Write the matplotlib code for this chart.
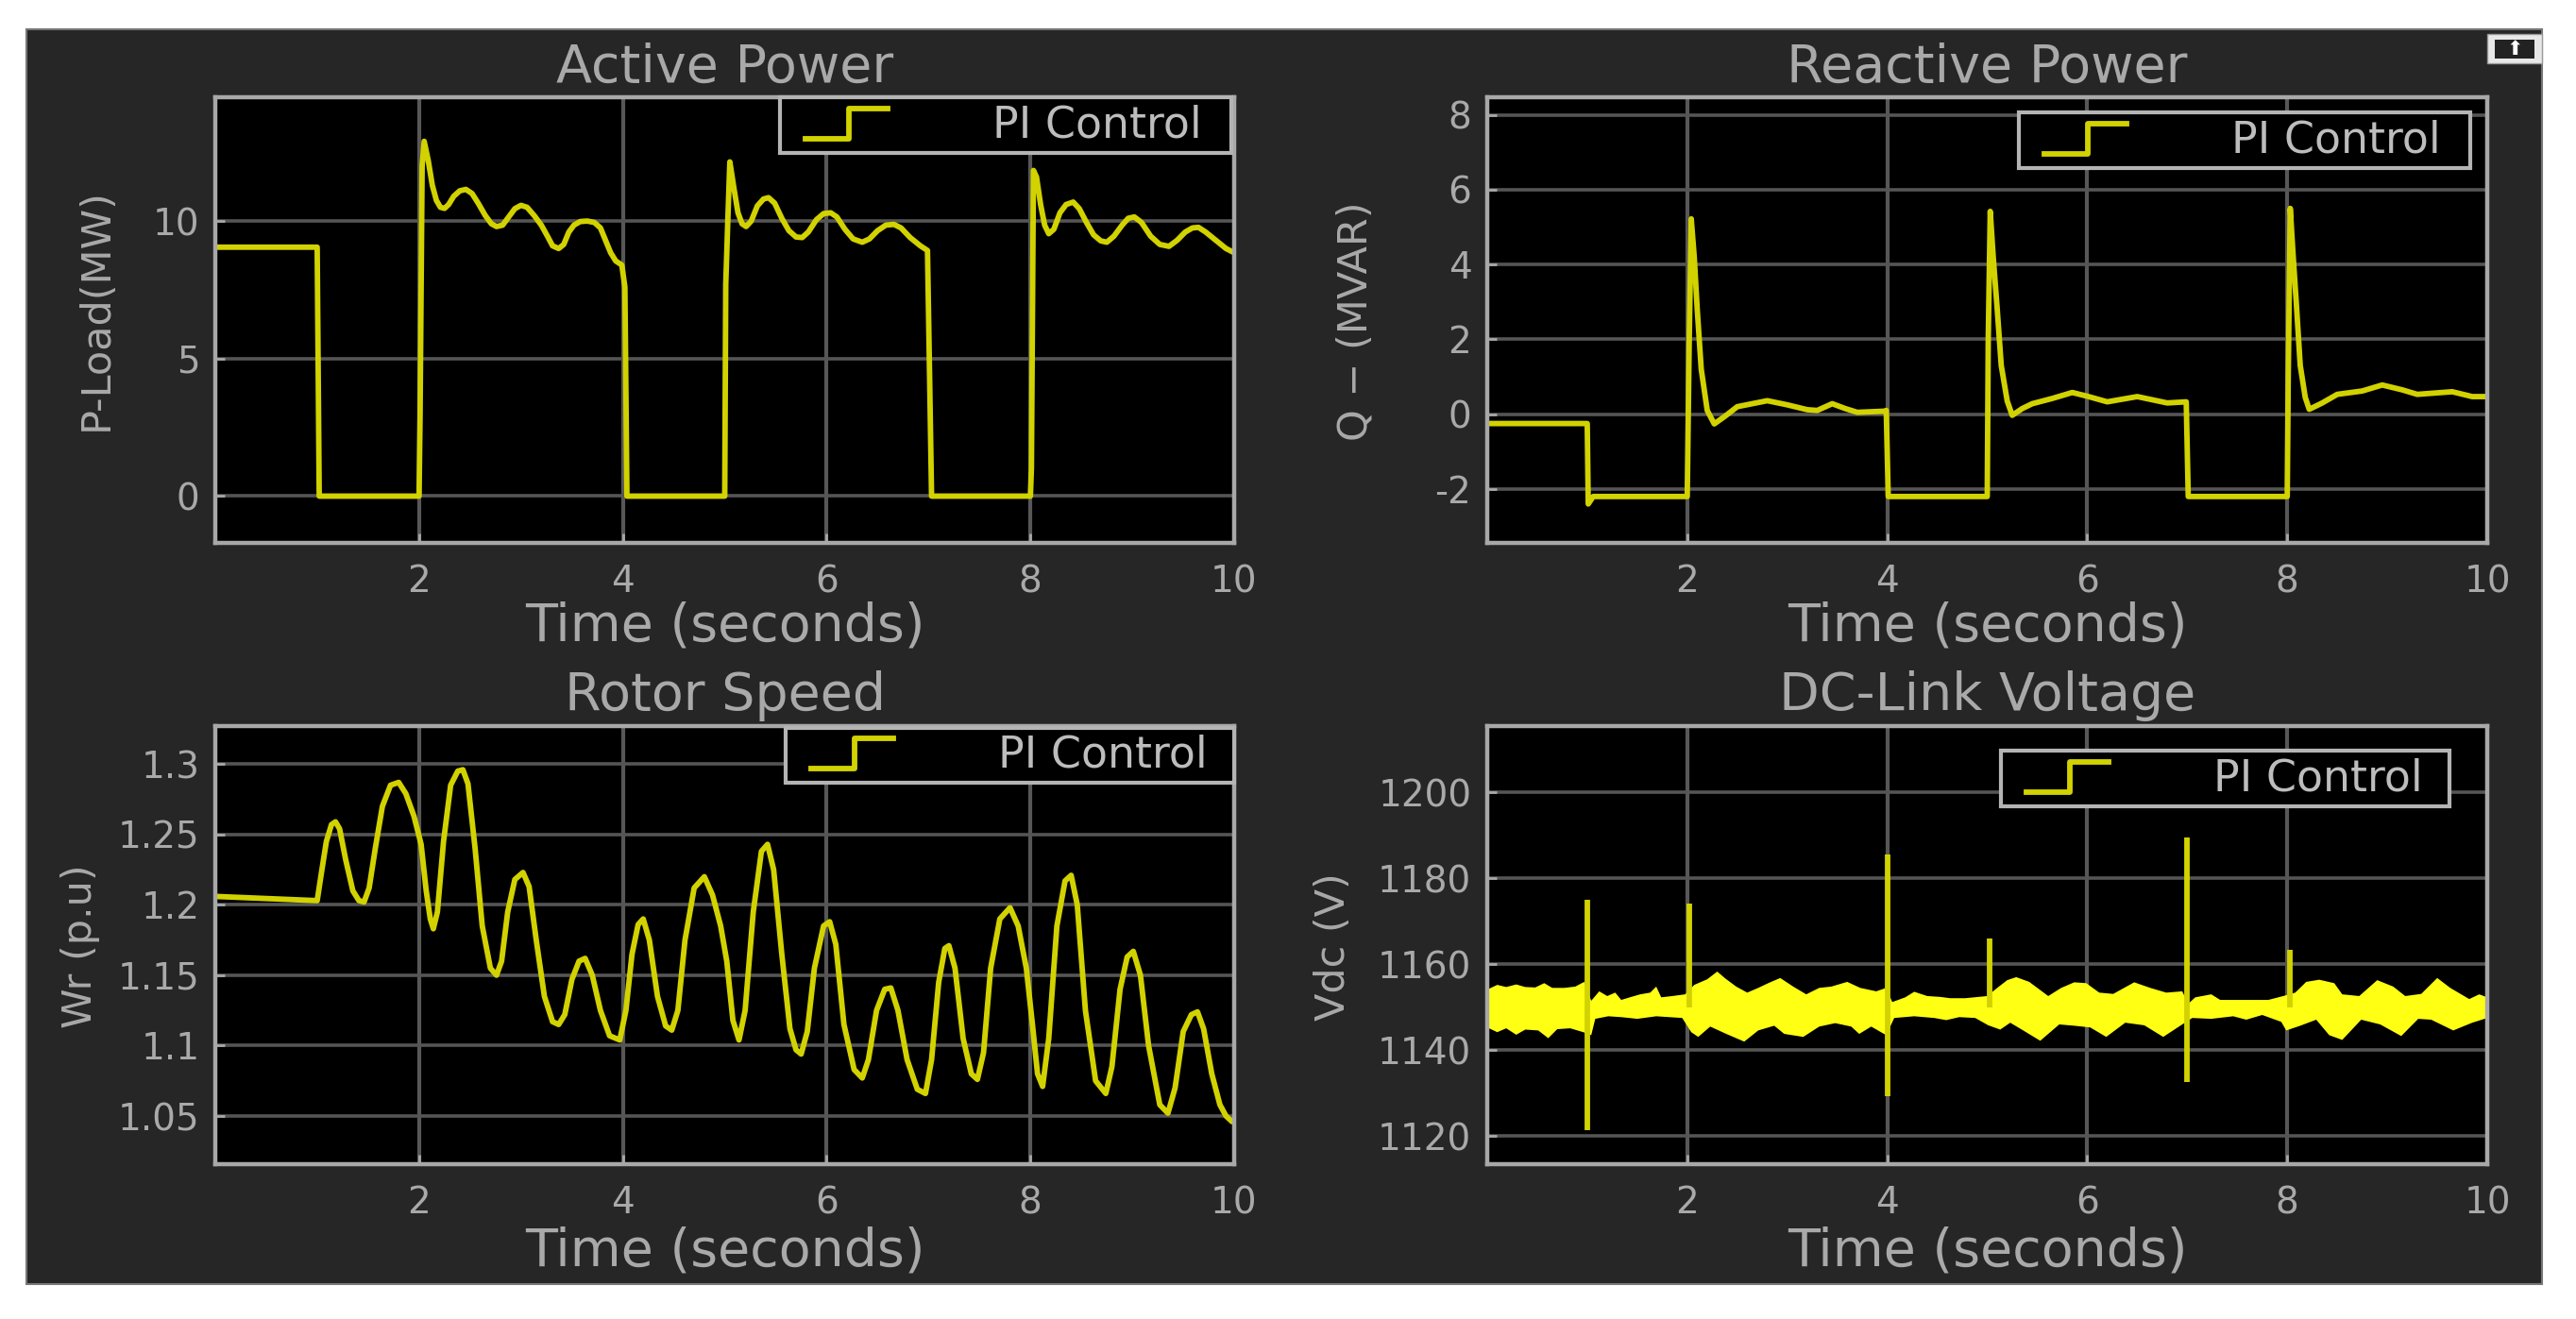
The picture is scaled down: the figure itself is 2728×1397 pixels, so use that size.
"""
Recreate the four-panel PI control scope figure (active/reactive power, rotor speed, DC link).
Output: out.png
"""
from __future__ import annotations

import matplotlib
matplotlib.use("Agg")
import matplotlib.pyplot as plt
from matplotlib.legend_handler import HandlerBase
from matplotlib.lines import Line2D
from matplotlib.patches import Rectangle

FIG_W = 2728
FIG_H = 1397

# Active power
P_T = [0, 1.0, 1.02, 2.0, 2.01, 2.03, 2.05, 2.09, 2.13, 2.17, 2.21, 2.25, 2.29, 2.34, 2.40, 2.46, 2.52, 2.58, 2.65, 2.71, 2.76,
       2.82, 2.88, 2.94, 3.0, 3.06, 3.13, 3.2, 3.26, 3.31, 3.37, 3.42, 3.47, 3.52, 3.58, 3.65, 3.72, 3.78, 3.83, 3.88, 3.93,
       3.99, 4.02, 4.04, 5.0, 5.01, 5.03, 5.05, 5.09, 5.13, 5.17, 5.21, 5.26, 5.32, 5.38, 5.43, 5.49, 5.56, 5.63, 5.7, 5.76,
       5.82, 5.9, 5.97, 6.04, 6.1, 6.18, 6.26, 6.35, 6.42, 6.5, 6.58, 6.66, 6.73, 6.82, 6.92, 6.99, 7.01, 7.03, 8.0, 8.01,
       8.03, 8.06, 8.1, 8.14, 8.18, 8.23, 8.29, 8.35, 8.42, 8.48, 8.55, 8.62, 8.69, 8.75, 8.82, 8.9, 8.96, 9.02, 9.09, 9.18,
       9.27, 9.36, 9.44, 9.52, 9.59, 9.65, 9.72, 9.82, 9.92, 10.0]
P_Y = [9.05, 9.05, 0, 0, 3.0, 12.0, 12.9, 12.2, 11.3, 10.75, 10.5, 10.46, 10.6, 10.9, 11.1, 11.15, 11.0, 10.65, 10.2, 9.9, 9.8,
       9.85, 10.15, 10.45, 10.57, 10.5, 10.2, 9.85, 9.45, 9.1, 9.0, 9.15, 9.6, 9.85, 9.98, 10.0, 9.95, 9.75, 9.3, 8.85, 8.55,
       8.4, 7.6, 0, 0, 7.7, 10.0, 12.15, 11.2, 10.3, 9.9, 9.8, 10.0, 10.55, 10.8, 10.85, 10.65, 10.1, 9.65, 9.42, 9.4,
       9.6, 10.05, 10.27, 10.3, 10.15, 9.7, 9.35, 9.23, 9.35, 9.65, 9.85, 9.88, 9.75, 9.4, 9.1, 8.93, 4.5, 0, 0, 1.0,
       11.84, 11.6, 10.6, 9.85, 9.54, 9.7, 10.3, 10.6, 10.69, 10.45, 9.95, 9.5, 9.28, 9.23, 9.45, 9.85, 10.1, 10.15, 9.95, 9.45,
       9.15, 9.08, 9.3, 9.6, 9.75, 9.77, 9.6, 9.3, 9.0, 8.85]

# Reactive power
Q_T = [0, 1.0, 1.01, 1.06, 2.0, 2.02, 2.04, 2.07, 2.1, 2.14, 2.2, 2.27, 2.38, 2.5, 2.65, 2.8, 3.0, 3.2, 3.3, 3.45, 3.58,
       3.7, 3.97, 3.99, 4.01, 5.0, 5.01, 5.03, 5.06, 5.1, 5.14, 5.2, 5.25, 5.35, 5.45, 5.65, 5.85, 6.0, 6.2, 6.5, 6.8, 6.99,
       7.01, 8.0, 8.01, 8.03, 8.06, 8.09, 8.13, 8.18, 8.22, 8.35, 8.5, 8.75, 8.95, 9.15, 9.3, 9.65, 9.85, 10.0]
Q_Y = [-0.25, -0.25, -2.4, -2.2, -2.2, 2.0, 5.22, 4.2, 2.8, 1.2, 0.1, -0.26, -0.05, 0.2, 0.28, 0.36, 0.25, 0.12, 0.1, 0.28, 0.15,
       0.05, 0.08, 0.1, -2.2, -2.2, 2.0, 5.42, 4.2, 2.8, 1.3, 0.35, -0.03, 0.15, 0.28, 0.42, 0.58, 0.48, 0.33, 0.47, 0.3, 0.33,
       -2.2, -2.2, 1.0, 5.5, 4.2, 3.0, 1.3, 0.45, 0.13, 0.3, 0.53, 0.62, 0.78, 0.65, 0.53, 0.6, 0.47, 0.47]

# Rotor speed
W_T = [0, 1.0, 1.04, 1.09, 1.14, 1.18, 1.22, 1.28, 1.35, 1.41, 1.46, 1.51, 1.57, 1.64, 1.72, 1.8, 1.87, 1.95, 2.02, 2.07,
       2.11, 2.14, 2.18, 2.24, 2.31, 2.38, 2.43, 2.48, 2.55, 2.62, 2.7, 2.76, 2.81, 2.87, 2.94, 3.02, 3.08, 3.15, 3.23, 3.31,
       3.37, 3.43, 3.5, 3.57, 3.63, 3.7, 3.78, 3.87, 3.97, 4.03, 4.09, 4.15, 4.2, 4.26, 4.34, 4.42, 4.48, 4.54, 4.61, 4.7,
       4.8, 4.88, 4.96, 5.02, 5.08, 5.14, 5.2, 5.28, 5.36, 5.42, 5.48, 5.56, 5.64, 5.7, 5.75, 5.81, 5.88, 5.97, 6.03, 6.09,
       6.17, 6.27, 6.35, 6.41, 6.49, 6.57, 6.63, 6.7, 6.79, 6.89, 6.97, 7.03, 7.1, 7.16, 7.2, 7.26, 7.34, 7.42, 7.48, 7.54,
       7.61, 7.7, 7.8, 7.88, 7.96, 8.02, 8.07, 8.12, 8.18, 8.26, 8.34, 8.4, 8.46, 8.54, 8.64, 8.74, 8.8, 8.88, 8.95, 9.01,
       9.08, 9.16, 9.27, 9.35, 9.42, 9.5, 9.58, 9.64, 9.7, 9.78, 9.86, 9.92, 9.98, 10.0]
W_Y = [1.206, 1.203, 1.222, 1.245, 1.257, 1.259, 1.254, 1.232, 1.21, 1.203, 1.202, 1.212, 1.24, 1.27, 1.285, 1.287, 1.279, 1.263, 1.243, 1.21,
       1.19, 1.183, 1.195, 1.245, 1.285, 1.295, 1.296, 1.286, 1.24, 1.185, 1.155, 1.15, 1.16, 1.195, 1.218, 1.223, 1.213, 1.175, 1.135, 1.117,
       1.115, 1.122, 1.147, 1.16, 1.162, 1.15, 1.125, 1.107, 1.104, 1.125, 1.165, 1.186, 1.19, 1.175, 1.135, 1.114, 1.111, 1.125, 1.175, 1.212,
       1.22, 1.207, 1.185, 1.16, 1.118, 1.104, 1.125, 1.195, 1.238, 1.243, 1.225, 1.165, 1.112, 1.097, 1.094, 1.11, 1.155, 1.185, 1.188, 1.172,
       1.115, 1.083, 1.077, 1.09, 1.125, 1.14, 1.141, 1.125, 1.09, 1.069, 1.066, 1.09, 1.145, 1.169, 1.171, 1.155, 1.105, 1.08, 1.076, 1.095,
       1.155, 1.19, 1.198, 1.185, 1.155, 1.115, 1.08, 1.071, 1.105, 1.185, 1.217, 1.221, 1.2, 1.125, 1.075, 1.066, 1.085, 1.14, 1.163, 1.167,
       1.15, 1.1, 1.058, 1.052, 1.07, 1.11, 1.122, 1.124, 1.112, 1.08, 1.058, 1.05, 1.046, 1.046]

# DC link ripple band, upper and lower edges
UP_T = [0, .10, .19, .29, .38, .48, .57, .65, .77, .88, .97, 1.04, 1.12, 1.20, 1.28, 1.34, 1.44, 1.53, 1.63, 1.69,
        1.74, 1.85, 1.98, 2.07, 2.20, 2.30, 2.38, 2.49, 2.60, 2.71, 2.81, 2.93, 3.06, 3.19, 3.32, 3.44, 3.60, 3.73, 3.89, 3.99,
        4.05, 4.18, 4.27, 4.40, 4.53, 4.63, 4.78, 5.00, 5.10, 5.20, 5.29, 5.42, 5.61, 5.74, 5.87, 5.99, 6.12, 6.26,
        6.47, 6.63, 6.79, 6.95, 7.01, 7.08, 7.24, 7.33, 7.56, 7.81, 7.96, 8.08, 8.19, 8.32, 8.47, 8.55, 8.72, 8.90, 9.06, 9.18,
        9.34, 9.50, 9.63, 9.82, 9.92, 10.0]
UP_Y = [1154.1, 1155.2, 1154.7, 1155.3, 1154.7, 1154.6, 1155.6, 1154.5, 1154.5, 1154.8, 1155.9, 1151.5, 1153.7, 1152.6, 1153.4, 1151.7, 1152.4, 1153.0, 1153.4, 1154.8,
        1152.3, 1152.6, 1153.0, 1155.2, 1156.5, 1158.3, 1156.7, 1154.8, 1153.4, 1154.5, 1155.6, 1156.8, 1154.8, 1153.0, 1154.5, 1154.8, 1155.9, 1154.5, 1153.7, 1154.5,
        1151.2, 1152.3, 1153.6, 1152.6, 1152.4, 1152.1, 1152.1, 1152.6, 1154.5, 1156.3, 1157.0, 1155.9, 1152.6, 1154.5, 1155.8, 1155.6, 1153.4, 1153.1,
        1155.8, 1154.5, 1153.4, 1153.7, 1150.8, 1152.3, 1153.0, 1151.7, 1151.7, 1151.7, 1152.6, 1153.4, 1155.9, 1156.4, 1155.6, 1153.0, 1152.6, 1156.3, 1154.8, 1152.6,
        1153.1, 1156.8, 1154.5, 1151.9, 1153.0, 1152.3]
LOW_T = [0, .10, .19, .29, .38, .51, .61, .70, .83, .96, 1.04, 1.08, 1.21, 1.34, 1.50, 1.69, 1.95, 2.04, 2.11, 2.23,
         2.39, 2.57, 2.71, 2.87, 2.97, 3.16, 3.32, 3.48, 3.64, 3.72, 3.84, 3.99, 4.07, 4.27, 4.47, 4.59, 4.72, 4.88,
         5.01, 5.13, 5.23, 5.36, 5.53, 5.72, 5.87, 6.03, 6.19, 6.38, 6.57, 6.76, 6.95, 7.05, 7.24, 7.46, 7.59, 7.75, 7.94, 7.99,
         8.13, 8.29, 8.42, 8.55, 8.74, 8.93, 9.14, 9.31, 9.44, 9.66, 9.85, 10.0]
LOW_Y = [1145.3, 1144.2, 1145.1, 1143.6, 1144.8, 1144.6, 1142.8, 1144.9, 1145.1, 1144.2, 1143.5, 1147.3, 1147.9, 1147.7, 1147.3, 1147.9, 1147.5, 1144.2, 1143.1, 1145.5,
         1143.8, 1142.0, 1144.6, 1145.7, 1143.8, 1143.1, 1145.5, 1146.3, 1145.5, 1143.8, 1145.5, 1143.5, 1147.5, 1147.9, 1147.5, 1147.0, 1147.7, 1147.5,
         1145.8, 1144.8, 1146.4, 1144.6, 1142.2, 1146.0, 1145.7, 1145.3, 1143.1, 1146.4, 1145.8, 1143.1, 1146.0, 1147.5, 1147.3, 1147.9, 1147.1, 1148.2, 1146.6, 1144.6,
         1145.7, 1147.1, 1143.5, 1142.4, 1147.1, 1146.0, 1143.3, 1147.3, 1147.1, 1144.6, 1146.4, 1147.5]
SPIKE_T = [1.0, 2.02, 4.0, 5.02, 7.0, 8.03]
SPIKE_TOP = [1174.9, 1174.1, 1185.5, 1166.0, 1189.4, 1163.4]
SPIKE_BOTTOM = [1121.3, 1150.0, 1129.4, 1150.0, 1132.5, 1150.0]

X_TICKS = [2, 4, 6, 8, 10]
P_TICKS = [0, 5, 10]
Q_TICKS = [-2, 0, 2, 4, 6, 8]
W_TICKS = [1.05, 1.1, 1.15, 1.2, 1.25, 1.3]
W_TICK_LABELS = ["1.05", "1.1", "1.15", "1.2", "1.25", "1.3"]
V_TICKS = [1120, 1140, 1160, 1180, 1200]

PANEL_BG = "#262626"
TEXT_GRAY = "#a9a9a9"
FRAME_GRAY = "#a8a8a8"
LINE_YELLOW = "#d2d200"
BAND_YELLOW = "#ffff14"
LINE_W = 4.2


class StepHandler(HandlerBase):
    """Little step symbol the scope draws in its legend."""

    def create_artists(self, legend, orig_handle, xdescent, ydescent, width, height, fontsize, trans):
        x0 = -xdescent + 0.10 * width
        x1 = -xdescent + 0.33 * width
        x2 = -xdescent + 0.53 * width
        y0 = -ydescent - 0.05 * height
        y1 = -ydescent + 0.95 * height
        line = Line2D([x0, x1, x1, x2], [y0, y0, y1, y1], color=LINE_YELLOW, lw=LINE_W, transform=trans)
        return [line]


def _box(left, top, right, bottom):
    """Pixel box -> figure fractions [l, b, w, h]."""
    return [left / FIG_W, 1 - bottom / FIG_H, (right - left) / FIG_W, (bottom - top) / FIG_H]


def _style_axes(ax, title, ylabel, ylim, yticks, ylabel_xy, xlabel_y, yticklabels=None):
    ax.set_facecolor("black")
    ax.set_xlim(0, 10)
    ax.set_ylim(*ylim)
    ax.set_xticks(X_TICKS)
    ax.set_yticks(yticks)
    if yticklabels:
        ax.set_yticklabels(yticklabels)
    ax.set_axisbelow(True)
    ax.xaxis.grid(True, color="#575757", lw=3.0)
    ax.yaxis.grid(True, color="#555555", lw=2.6)
    ax.tick_params(axis="x", direction="in", length=7, width=2, color=FRAME_GRAY,
                   labelcolor=TEXT_GRAY, labelsize=28, pad=16)
    ax.tick_params(axis="y", direction="in", length=7, width=2, color=FRAME_GRAY,
                   labelcolor=TEXT_GRAY, labelsize=28, pad=12)
    for spine in ax.spines.values():
        spine.set_color(FRAME_GRAY)
        spine.set_linewidth(3.2)
    ax.set_title(title, color=TEXT_GRAY, fontsize=40, pad=12)
    ax.set_xlabel("Time (seconds)", color=TEXT_GRAY, fontsize=40)
    ax.xaxis.set_label_coords(0.5, xlabel_y)
    ax.set_ylabel(ylabel, color=TEXT_GRAY, fontsize=31)
    ax.yaxis.set_label_coords(*ylabel_xy)


def _add_legend(ax, fig, left, top, right, bottom):
    handle = Line2D([], [], color=LINE_YELLOW)
    bbox = _box(left, top, right, bottom)
    leg = ax.legend([handle], ["PI Control"], handler_map={Line2D: StepHandler()},
                    loc="center", bbox_to_anchor=bbox, bbox_transform=fig.transFigure, mode="expand",
                    fontsize=33, borderpad=0.15, borderaxespad=0, handlelength=4.4, handletextpad=0.35,
                    fancybox=False, framealpha=1, facecolor="black", edgecolor="#b4b4b4")
    leg.get_frame().set_linewidth(3.0)
    for text in leg.get_texts():
        text.set_color("#bdbdbd")


def main() -> int:
    plt.rcParams["axes.unicode_minus"] = False
    fig = plt.figure(figsize=(FIG_W / 100, FIG_H / 100), dpi=100, facecolor="white")
    fig.patches.append(Rectangle((28 / FIG_W, 1 - 1360 / FIG_H), (2692 - 28) / FIG_W, (1360 - 31) / FIG_H,
                                 transform=fig.transFigure, facecolor=PANEL_BG, edgecolor="#777777", lw=1.5,
                                 zorder=-1))

    ax_p = fig.add_axes(_box(228, 103, 1307, 575))
    ax_q = fig.add_axes(_box(1575, 103, 2634, 575))
    ax_w = fig.add_axes(_box(228, 769, 1307, 1233))
    ax_v = fig.add_axes(_box(1575, 769, 2634, 1233))

    ax_p.plot(P_T, P_Y, color=LINE_YELLOW, lw=LINE_W, solid_joinstyle="round")
    ax_q.plot(Q_T, Q_Y, color=LINE_YELLOW, lw=LINE_W, solid_joinstyle="round")
    ax_w.plot(W_T, W_Y, color=LINE_YELLOW, lw=LINE_W, solid_joinstyle="round")
    ax_v.vlines(SPIKE_T, SPIKE_BOTTOM, SPIKE_TOP, color=LINE_YELLOW, lw=LINE_W)
    ax_v.fill(UP_T + LOW_T[::-1], UP_Y + LOW_Y[::-1], color=BAND_YELLOW, lw=0)

    _style_axes(ax_p, "Active Power", "P-Load(MW)", (-1.7, 14.5), P_TICKS, (-0.098, 0.525), -0.13)
    _style_axes(ax_q, "Reactive Power", "Q \u2212 (MVAR)", (-3.44, 8.47), Q_TICKS, (-0.112, 0.497), -0.13)
    _style_axes(ax_w, "Rotor Speed", "Wr (p.u)", (1.0158, 1.327), W_TICKS, (-0.113, 0.498), -0.142, W_TICK_LABELS)
    _style_axes(ax_v, "DC-Link Voltage", "Vdc (V)", (1113.5, 1215.4), V_TICKS, (-0.134, 0.496), -0.142)

    _add_legend(ax_p, fig, 826, 103, 1304, 162)
    _add_legend(ax_q, fig, 2138, 118, 2616, 179)
    _add_legend(ax_w, fig, 832, 770, 1307, 830)
    _add_legend(ax_v, fig, 2119, 795, 2594, 854)

    # Scope's undock button, top right corner
    fig.patches.append(Rectangle((2634 / FIG_W, 1 - 67 / FIG_H), 58 / FIG_W, 31 / FIG_H,
                                 transform=fig.transFigure, facecolor="#e8e8e8", edgecolor="#999999", lw=1))
    fig.patches.append(Rectangle((2642 / FIG_W, 1 - 62 / FIG_H), 42 / FIG_W, 20 / FIG_H,
                                 transform=fig.transFigure, facecolor="#222222", edgecolor="none"))
    fig.text(2663 / FIG_W, 1 - 52 / FIG_H, "\u2b06", color="white", fontsize=15, ha="center", va="center")

    fig.savefig("out.png", dpi=100, facecolor="white")
    plt.close(fig)
    return 0


if __name__ == "__main__":
    main()
